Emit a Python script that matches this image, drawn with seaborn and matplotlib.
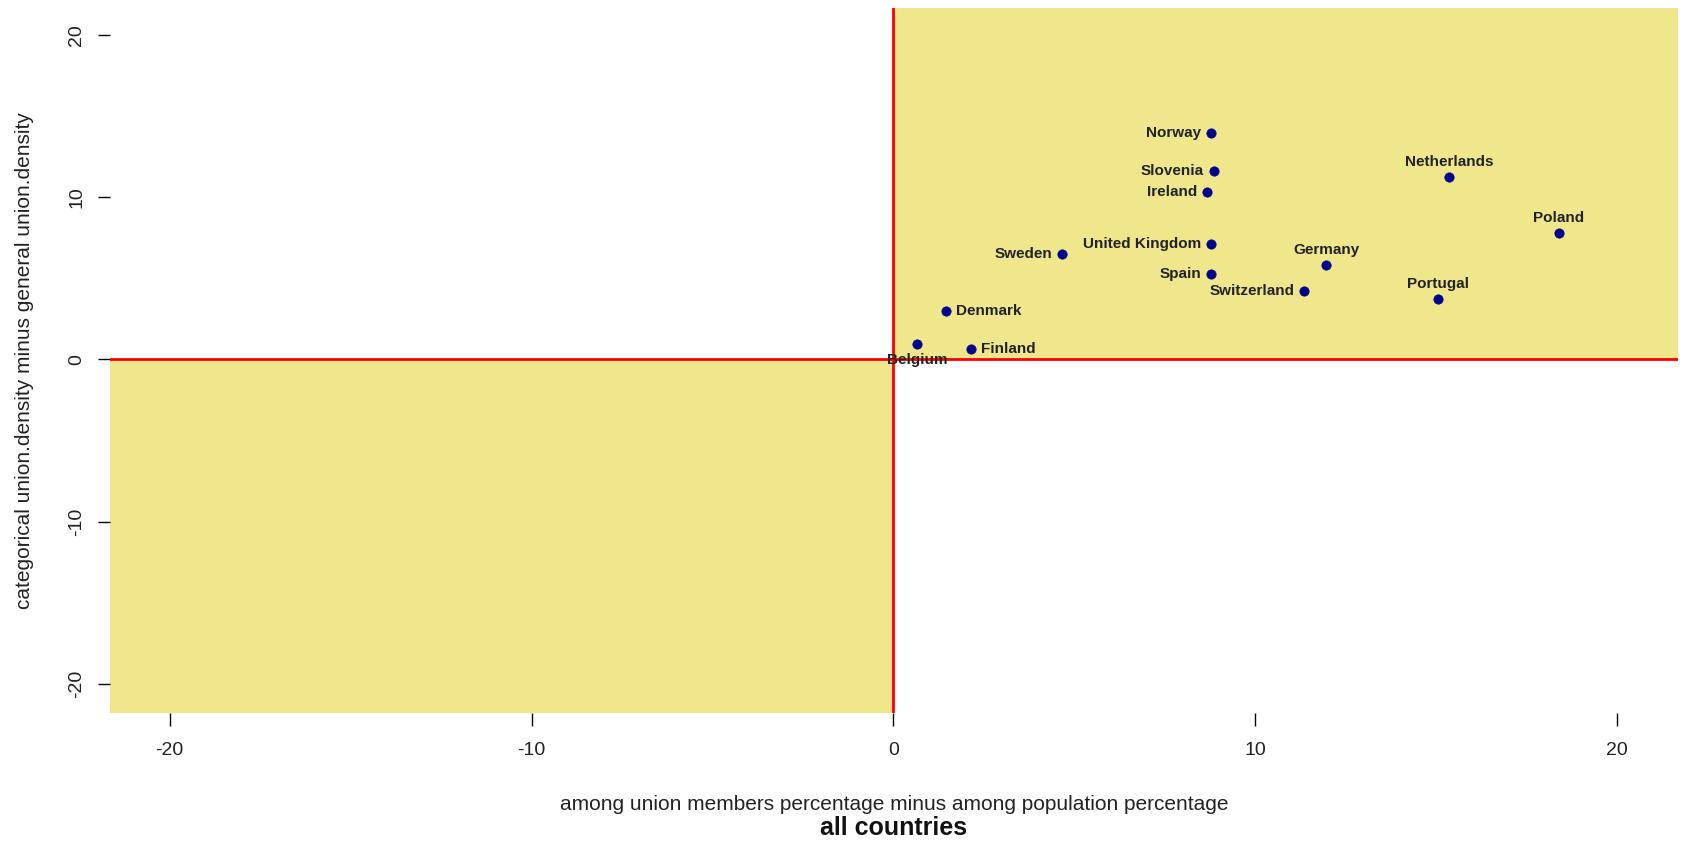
import matplotlib
matplotlib.use("Agg")
import matplotlib.pyplot as plt
import seaborn as sns
import pandas as pd
from matplotlib.patches import Rectangle

countries = ["Norway", "Slovenia", "Ireland", "United Kingdom", "Sweden", "Spain",
             "Switzerland", "Germany", "Denmark", "Belgium", "Finland",
             "Netherlands", "Poland", "Portugal"]
x_vals = [8.78, 8.85, 8.67, 8.78, 4.67, 8.78, 11.35, 11.96, 1.44, 0.65, 2.15,
          15.36, 18.39, 15.06]
y_vals = [13.97, 11.63, 10.30, 7.11, 6.51, 5.24, 4.20, 5.78, 2.96, 0.94, 0.62,
          11.22, 7.81, 3.70]
label_side = ["left", "left", "left", "left", "left", "left", "left", "above",
              "right", "below", "right", "above", "above", "above"]
ticks = [-20, -10, 0, 10, 20]

df = pd.DataFrame({"country": countries, "x": x_vals, "y": y_vals, "side": label_side})

sns.set_style("white")
plt.rcParams["font.family"] = ["Liberation Sans", "DejaVu Sans"]

fig = plt.figure(figsize=(16.85, 8.42), dpi=100)
ax = fig.add_axes([110 / 1685, 1 - 713 / 842, 1568 / 1685, 705 / 842])

xmin, xmax = -21.65, 21.68
ymin, ymax = -21.8, 21.65
ax.set_xlim(xmin, xmax)
ax.set_ylim(ymin, ymax)

khaki = "#F0E68C"
ax.add_patch(Rectangle((0, 0), xmax, ymax, facecolor=khaki, edgecolor="none", zorder=0))
ax.add_patch(Rectangle((xmin, ymin), -xmin, -ymin, facecolor=khaki, edgecolor="none", zorder=0))
ax.axhline(0, color="red", lw=2, zorder=1)
ax.axvline(0, color="red", lw=2, zorder=1)

sns.scatterplot(data=df, x="x", y="y", ax=ax, color="darkblue", s=45,
                edgecolor="darkblue", linewidth=0.5, zorder=3, legend=False)

offsets = {"left": ((-10, 0), "right", "center"),
           "right": ((10, 0), "left", "center"),
           "above": ((0, 15), "center", "center"),
           "below": ((0, -16), "center", "center")}
for c, xv, yv, sd in zip(countries, x_vals, y_vals, label_side):
    (dx, dy), ha, va = offsets[sd]
    ax.annotate(c, (xv, yv), xytext=(dx, dy), textcoords="offset pixels",
                ha=ha, va=va, fontsize=11, fontweight="bold", color="#222222", zorder=4)

for sp in ax.spines.values():
    sp.set_visible(False)

ax.set_xticks(ticks)
ax.set_yticks(ticks)
ax.set_xticklabels([str(t) for t in ticks])
ax.set_yticklabels([str(t) for t in ticks], rotation=90, va="center")
ax.tick_params(axis="both", which="both", direction="out", length=9, width=1,
               color="black", labelsize=14, labelcolor="#222222",
               bottom=True, left=True)
ax.tick_params(axis="x", pad=12)
ax.tick_params(axis="y", pad=9)

ax.set_xlabel("among union members percentage minus among population percentage",
              fontsize=15, color="#222222")
ax.set_ylabel("categorical union.density minus general union.density",
              fontsize=15, color="#222222")
ax.xaxis.set_label_coords(0.5, (713 - 805) / 705)
ax.yaxis.set_label_coords((25 - 110) / 1568, 0.5)
ax.xaxis.label.set_va("center")
ax.yaxis.label.set_va("center")

# subtitle centred on the plot region
ax.text(0.5, (713 - 828) / 705, "all countries", transform=ax.transAxes,
        ha="center", va="center", fontsize=18, fontweight="bold", color="#111111")
ax.grid(False)

fig.savefig("out.png", dpi=100, facecolor="white")
